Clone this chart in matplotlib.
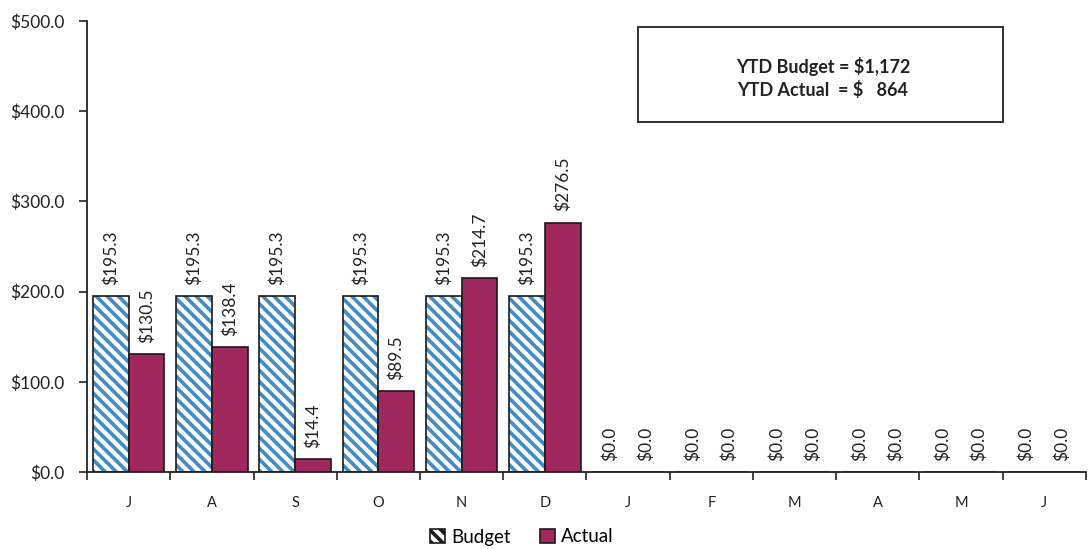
import matplotlib
matplotlib.use("Agg")
import matplotlib.pyplot as plt
import matplotlib.patches as mpatches
import numpy as np

months = ["J", "A", "S", "O", "N", "D", "J", "F", "M", "A", "M", "J"]
budget = [195.3, 195.3, 195.3, 195.3, 195.3, 195.3, 0, 0, 0, 0, 0, 0]
actual = [130.5, 138.4, 14.4, 89.5, 214.7, 276.5, 0, 0, 0, 0, 0, 0]
yticks = [0, 100, 200, 300, 400, 500]
box_text = "YTD Budget = $1,172\nYTD Actual  = $   864"

plt.rcParams['font.family'] = ['Lato', 'DejaVu Sans']
plt.rcParams['hatch.linewidth'] = 2.6

fig = plt.figure(figsize=(10.88, 5.49), dpi=100)
ax = fig.add_axes([0.08, 0.140, 0.918, 0.822])

x = np.arange(len(months))
w = 0.43
blue = "#3F8CC9"
red = "#A0285C"

ax.bar(x - w/2, budget, w, facecolor="white", edgecolor=blue, hatch="\\\\\\", linewidth=0)
ax.bar(x - w/2, budget, w, fill=False, edgecolor="#1a1a1a", linewidth=1.2)
ax.bar(x + w/2, actual, w, facecolor=red, edgecolor="#1a1a1a", linewidth=1.2)

for xi, b, a in zip(x, budget, actual):
    ax.annotate(f"${b:,.1f}", (xi - w/2, b), xytext=(0, 8), textcoords="offset points",
                rotation=90, ha="center", va="bottom", fontsize=12.5, color="#222222")
    ax.annotate(f"${a:,.1f}", (xi + w/2, a), xytext=(0, 8), textcoords="offset points",
                rotation=90, ha="center", va="bottom", fontsize=12.5, color="#222222")

ax.set_xlim(-0.5, len(months) - 0.5)
ax.set_ylim(0, 500)
ax.set_yticks(yticks)
ax.set_yticklabels([f"${v:,.1f}" for v in yticks], fontsize=12.5, color="#222222")
ax.set_xticks(x)
ax.set_xticklabels(months, fontsize=10.5, color="#222222")
ax.set_xticks(np.arange(len(months) + 1) - 0.5, minor=True)
ax.tick_params(axis="x", which="major", length=0, pad=17)
ax.tick_params(axis="x", which="minor", length=6, width=1.2, color="#222222")
ax.tick_params(axis="y", length=6, width=1.2, color="#222222", pad=10)
for s in ["top", "right"]:
    ax.spines[s].set_visible(False)
ax.spines["left"].set_linewidth(1.3)
ax.spines["bottom"].set_linewidth(1.3)
ax.spines["left"].set_color("#222222")
ax.spines["bottom"].set_color("#222222")

# text box
fig.patches.append(mpatches.Rectangle((638/1088, 1 - 122/549), (1003 - 638)/1088, (122 - 27)/549,
                                      transform=fig.transFigure, fill=False, edgecolor="#222222",
                                      linewidth=1.3))
fig.text(823/1088, 1 - 78/549, box_text, ha="center", va="center", fontsize=13,
         fontweight="bold", linespacing=1.3, color="#222222")

# legend
h_budget = mpatches.Patch(facecolor="white", edgecolor="#1a1a1a", hatch="\\\\\\", linewidth=1.2)
h_actual = mpatches.Patch(facecolor=red, edgecolor="#1a1a1a", linewidth=1.2)
fig.legend([h_budget, h_actual], ["Budget", "Actual"], loc="center",
           bbox_to_anchor=(522/1088, 1 - 537/549), ncol=2, frameon=False, fontsize=13.5,
           handlelength=0.8, handleheight=0.8, handletextpad=0.3, columnspacing=1.6)

fig.savefig("out.png", dpi=100)
